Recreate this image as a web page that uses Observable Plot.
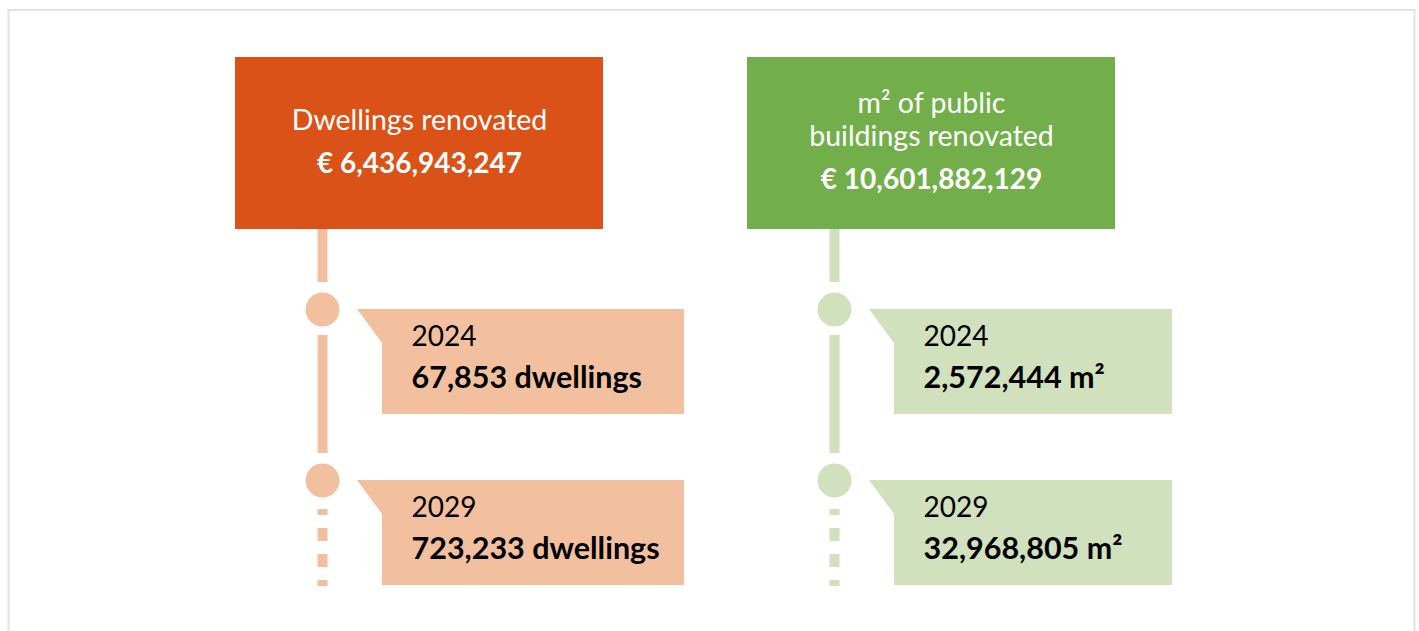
<!DOCTYPE html>
<html>
<head>
<meta charset="utf-8">
<script src="https://cdn.jsdelivr.net/npm/d3@7"></script>
<script src="https://cdn.jsdelivr.net/npm/@observablehq/plot@0.6"></script>
<style>
  html, body { margin: 0; padding: 0; background: #fff; }
  #chart svg { display: block; }
</style>
</head>
<body>
<div id="chart"></div>
<script>
// ---- data ----
const categories = ["Dwellings renovated", "m² of public buildings renovated"];
const headerLines = [["Dwellings renovated"], ["m² of public", "buildings renovated"]];
const budgets = ["€ 6,436,943,247", "€ 10,601,882,129"];
const years = ["2024", "2029"];
const dwellingsTargets = [67853, 723233];
const publicAreaTargets = [2572444, 32968805];
const units = ["dwellings", "m²"];

// ---- styles / layout ----
const strong = ["#DA5217", "#72AF4B"];
const light = ["#F2C09E", "#D1E0BD"];
const W = 1419, H = 631;
const FONT = "Lato, 'Open Sans', sans-serif";
const headerTop = 57, headerBottom = 229;
const spineDx = -97;           // spine offset from band centre
const calloutWidth = [449, 425]; // right edge of callout relative to band start
const fmt = d3.format(",");

const rows = categories.flatMap((c, i) =>
  years.map((yr, j) => ({
    category: c, ci: i, year: yr,
    value: (i === 0 ? dwellingsTargets : publicAreaTargets)[j],
    unit: units[i]
  }))
);

// callout shapes drawn with the plot's own scales
function callouts(index, scales) {
  const {x, y} = scales;
  const g = d3.create("svg:g");
  for (const r of rows) {
    const bx = x(r.category), ty = y(r.year);
    const pts = [
      [bx + 122, ty], [bx + calloutWidth[r.ci], ty], [bx + calloutWidth[r.ci], ty + 105],
      [bx + 147, ty + 105], [bx + 147, ty + 34]
    ];
    g.append("path").attr("d", "M" + pts.map(p => p.join(",")).join("L") + "Z").attr("fill", light[r.ci]);
  }
  return g.node();
}

const headerTextMarks = categories.flatMap((c, i) => {
  const n = headerLines[i].length;
  const span = 33 * (n - 1) + 45;
  const mid = (headerTop + headerBottom) / 2 - 2;
  const first = mid - span / 2;
  const budgetY = mid + span / 2;
  return [
    Plot.text([c], {
      x: d => d, text: () => headerLines[i].join("\n"), frameAnchor: "top",
      dy: first + 33 * (n - 1) / 2, lineAnchor: "middle", lineHeight: 33 / 28.5,
      fontSize: 28.5, fill: "white", fontFamily: FONT
    }),
    Plot.text([c], {
      x: d => d, text: () => budgets[i], frameAnchor: "top", dy: budgetY,
      lineAnchor: "middle", fontSize: 28, fontWeight: "bold", fill: "white", fontFamily: FONT
    })
  ];
});

const chart = Plot.plot({
  width: W, height: H, margin: 0,
  style: {fontFamily: FONT, background: "white"},
  x: {type: "band", domain: categories, range: [235, 1115], paddingInner: 0.28125, paddingOuter: 0, axis: null},
  y: {type: "point", domain: years, range: [309, 480], padding: 0, axis: null},
  marks: [
    Plot.frame({stroke: "#e2e2e2", strokeWidth: 2, insetLeft: 8, insetTop: 9.5, insetRight: 5, insetBottom: -10}),
    // header boxes
    Plot.cell(categories, {x: d => d, fill: (d, i) => strong[i], insetTop: headerTop, insetBottom: H - headerBottom}),
    // spine: header → first milestone
    Plot.ruleX(categories, {x: d => d, y1: () => years[0], y2: () => years[0], dx: spineDx,
      stroke: (d, i) => light[i], strokeWidth: 10, insetTop: -(309 - headerBottom), insetBottom: 27}),
    // spine: between milestones
    Plot.ruleX(categories, {x: d => d, y1: () => years[0], y2: () => years[1], dx: spineDx,
      stroke: (d, i) => light[i], strokeWidth: 10, insetTop: 26, insetBottom: 27}),
    // spine: dashed continuation
    Plot.ruleX(categories, {x: d => d, y1: () => years[1], y2: () => years[1], dx: spineDx,
      stroke: (d, i) => light[i], strokeWidth: 10, insetTop: 29, insetBottom: -106,
      strokeDasharray: "6,13,13,13,13,13,6,200"}),
    // milestone dots
    Plot.dot(rows, {x: "category", y: "year", r: 17, fill: d => light[d.ci], dx: spineDx}),
    callouts,
    Plot.text(rows, {x: "category", y: "year", text: "year", dx: -8, dy: 27.5, textAnchor: "start",
      lineAnchor: "middle", fontSize: 28, fill: "#000", fontFamily: FONT}),
    Plot.text(rows, {x: "category", y: "year", text: d => fmt(d.value) + " " + d.unit, dx: -8, dy: 69,
      textAnchor: "start", lineAnchor: "middle", fontSize: 30.5, fontWeight: "bold", fill: "#000", fontFamily: FONT}),
    ...headerTextMarks
  ]
});
document.getElementById("chart").append(chart);
</script>
</body>
</html>
